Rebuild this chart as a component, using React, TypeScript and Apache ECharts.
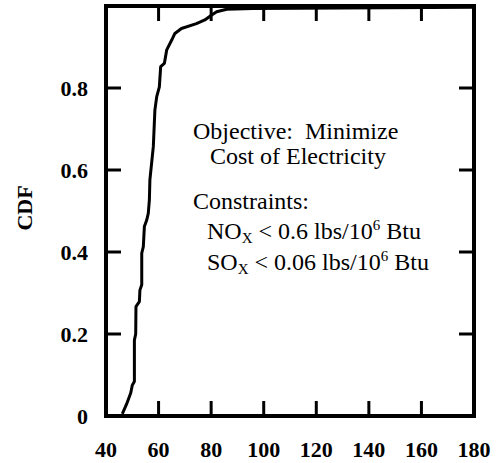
import React, { useEffect, useRef } from "react";
import * as echarts from "echarts";

const costValues = [46.2, 47.9, 49.4, 50.0, 50.8, 50.8, 51.3, 51.4, 52.7, 52.9, 53.6, 53.6, 54.2, 54.6, 55.5, 56.1, 56.5, 56.7, 58.0, 58.6, 59.3, 60.3, 60.8, 62.2, 63.1, 65.0, 66.2, 68.7, 74.4, 77.6, 80.2, 82.1, 85.9, 95.9, 180];
const cdfValues = [0.005, 0.03, 0.056, 0.075, 0.084, 0.185, 0.2, 0.267, 0.279, 0.307, 0.32, 0.397, 0.413, 0.462, 0.478, 0.495, 0.527, 0.576, 0.657, 0.746, 0.779, 0.803, 0.852, 0.86, 0.893, 0.917, 0.933, 0.945, 0.957, 0.966, 0.978, 0.986, 0.992, 0.994, 0.997];

const xMin = 40;
const xMax = 180;
const xStep = 20;
const yMin = 0;
const yMax = 1;
const yStep = 0.2;

const xTickValues = [60, 80, 100, 120, 140, 160];
const yTickValues = [0.2, 0.4, 0.6, 0.8];

const yAxisTitle = "CDF";
const noteLines = [
  "Objective:  Minimize",
  "Cost of Electricity",
  "Constraints:",
];

const SERIF = "'Liberation Serif', 'Times New Roman', serif";
const TICK_LEN = 15;
const TICK_W = 3;

export default function App() {
  const ref = useRef<HTMLDivElement>(null);
  useEffect(() => {
    if (!ref.current) return;
    const chart = echarts.init(ref.current, null, { renderer: "svg" });
    const axisLine = () => ({ show: true, onZero: false, lineStyle: { color: "#000", width: 4, cap: "square" } });
    const labelStyle = () => ({ color: "#000", fontFamily: SERIF, fontWeight: "bold", fontSize: 22 });
    const n = { fontFamily: SERIF, fontSize: 24, lineHeight: 28, color: "#000" };
    const sub = { fontFamily: SERIF, fontSize: 15, lineHeight: 15, color: "#000", verticalAlign: "bottom" };
    const sup = { fontFamily: SERIF, fontSize: 15, lineHeight: 15, color: "#000", verticalAlign: "top" };
    const txt = (text: string, x: number, y: number, rich = false) => ({
      type: "text",
      x,
      y,
      style: rich
        ? { text, rich: { n, s: sub, p: sup }, align: "left", verticalAlign: "middle", fill: "#000" }
        : { text, font: `24px ${SERIF}`, align: "left", verticalAlign: "middle", fill: "#000" },
    });
    chart.setOption({
      animation: false,
      grid: { left: 106, right: 24, top: 6, bottom: 47, show: false },
      xAxis: [
        {
          type: "value", position: "bottom", min: xMin, max: xMax, interval: xStep,
          axisLine: axisLine(), axisTick: { show: false }, splitLine: { show: false },
          axisLabel: { ...labelStyle(), margin: 22 },
        },
        {
          type: "value", position: "top", min: xMin, max: xMax, interval: xStep,
          axisLine: axisLine(), axisTick: { show: false }, splitLine: { show: false }, axisLabel: { show: false },
        },
      ],
      yAxis: [
        {
          type: "value", position: "left", min: yMin, max: yMax, interval: yStep,
          axisLine: axisLine(), axisTick: { show: false }, splitLine: { show: false },
          axisLabel: {
            ...labelStyle(), margin: 18,
            formatter: (v: number) => (v === 0 ? "0" : v >= 1 ? "" : v.toFixed(1)),
          },
        },
        {
          type: "value", position: "right", min: yMin, max: yMax, interval: yStep,
          axisLine: axisLine(), axisTick: { show: false }, splitLine: { show: false }, axisLabel: { show: false },
        },
      ],
      series: [
        {
          type: "line",
          xAxisIndex: 0,
          yAxisIndex: 0,
          data: costValues.map((c, i) => [c, cdfValues[i]]),
          showSymbol: false,
          lineStyle: { color: "#000", width: 3 },
          clip: false,
        },
      ],
    });

    const finder = { xAxisIndex: 0, yAxisIndex: 0 };
    const ticks: any[] = [];
    xTickValues.forEach((v) => {
      const b = chart.convertToPixel(finder, [v, yMin]) as number[];
      const t = chart.convertToPixel(finder, [v, yMax]) as number[];
      if (b && t) {
        ticks.push({ type: "rect", z: 10, shape: { x: b[0] - TICK_W / 2, y: b[1] - TICK_LEN, width: TICK_W, height: TICK_LEN }, style: { fill: "#000" } });
        ticks.push({ type: "rect", z: 10, shape: { x: t[0] - TICK_W / 2, y: t[1], width: TICK_W, height: TICK_LEN }, style: { fill: "#000" } });
      }
    });
    yTickValues.forEach((v) => {
      const l = chart.convertToPixel(finder, [xMin, v]) as number[];
      const r = chart.convertToPixel(finder, [xMax, v]) as number[];
      if (l && r) {
        ticks.push({ type: "rect", z: 10, shape: { x: l[0], y: l[1] - TICK_W / 2, width: TICK_LEN, height: TICK_W }, style: { fill: "#000" } });
        ticks.push({ type: "rect", z: 10, shape: { x: r[0] - TICK_LEN, y: r[1] - TICK_W / 2, width: TICK_LEN, height: TICK_W }, style: { fill: "#000" } });
      }
    });

    chart.setOption({
      graphic: [
        {
          type: "text", x: 24, y: 208, rotation: Math.PI / 2,
          style: { text: yAxisTitle, font: `bold 22px ${SERIF}`, align: "center", verticalAlign: "middle", fill: "#000" },
        },
        txt(noteLines[0], 193, 131),
        txt(noteLines[1], 210, 156),
        txt(noteLines[2], 193, 201),
        txt("{n|NO}{s|X}{n| < 0.6 lbs/10}{p|6}{n| Btu}", 207, 231, true),
        txt("{n|SO}{s|X}{n| < 0.06 lbs/10}{p|6}{n| Btu}", 207, 262, true),
        ...ticks,
      ],
    });
    return () => chart.dispose();
  }, []);
  return <div ref={ref} style={{ position: "fixed", left: 0, top: 0, width: 498, height: 463, background: "#fff" }} />;
}
